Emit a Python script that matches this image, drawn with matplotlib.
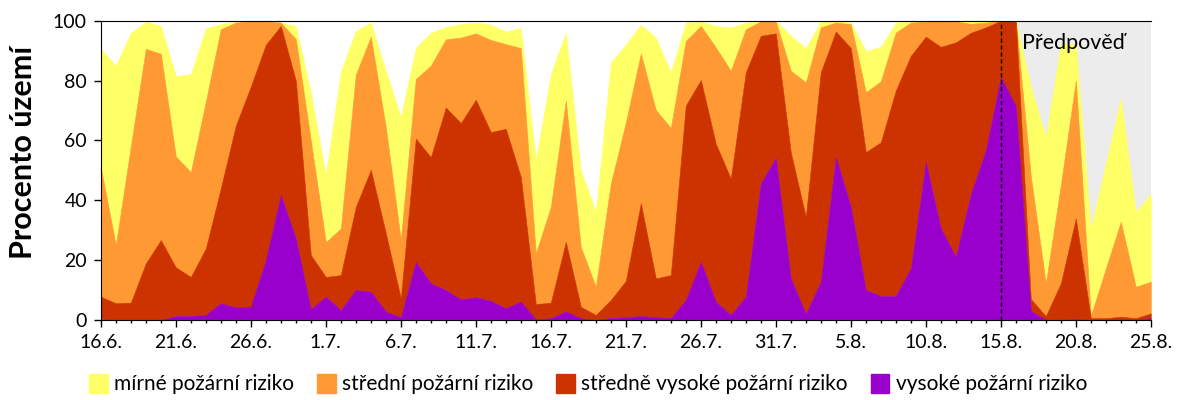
import numpy as np
import matplotlib.pyplot as plt
from matplotlib.patches import Patch

# Podíl území (%) podle stupně požárního rizika, denně 16.6. - 25.8.
# hodnoty jsou kumulativní ("aspoň dané riziko")
aspon_mirne = [
    90.6, 85, 96, 99.7, 98.3, 81.5, 82.2, 97.5, 98.9, 99.8,
    100, 100, 99.4, 98.3, 76, 48.3, 83, 96.7, 99.4, 83.3,
    67.8, 91, 96, 98, 98.9, 99.4, 98.7, 96.4, 97.6, 53.3,
    82.2, 96, 50, 36.1, 86.1, 92, 98.7, 94.4, 82.8, 99.4,
    99.8, 98.3, 97.8, 99.4, 99.8, 100, 95, 90.9, 99.8, 100,
    99.4, 89.8, 91.3, 99.4, 100, 100, 100, 100, 100, 100,
    100, 100, 78, 61.1, 92.2, 92.2, 30.6, 52.2, 74.2, 36.1,
    42.2,
]
aspon_stredni = [
    50.9, 25, 58, 90.6, 89, 54.7, 49.4, 73, 97.2, 99.4,
    100, 99.8, 99.4, 93.9, 60, 26, 30.6, 82, 94.7, 64.4,
    26.7, 80.6, 85, 93.8, 94.4, 95.8, 93.6, 92.2, 90.9, 22.2,
    37.8, 73.3, 24.4, 11.1, 45.6, 66, 89, 70.2, 64.2, 93.3,
    98.3, 91.1, 83.3, 97.2, 99.8, 99.8, 83.3, 79.4, 97.8, 99.4,
    98.9, 76.1, 79.8, 96.1, 99.4, 99.8, 99.8, 99.8, 99, 99.4,
    100, 100, 48, 12.2, 45, 80, 1.3, 17.2, 32.8, 11.1,
    12.8,
]
aspon_stredne_vysoke = [
    7.8, 5.6, 5.8, 18.9, 26.7, 17.6, 14.4, 23.9, 44, 65,
    78, 92, 98.3, 80, 21.7, 14.4, 15, 37.8, 50.2, 29,
    7.2, 60.6, 54.4, 71, 65.8, 73.6, 62.8, 63.9, 47.8, 5.3,
    5.8, 26.1, 4.4, 1.7, 6.7, 13, 39, 13.9, 15, 71.7,
    80.2, 58.9, 47.2, 82.8, 95, 95.8, 56, 34.4, 82.8, 96.4,
    90.9, 56.1, 59.4, 76.7, 88.3, 94.7, 91.3, 92.8, 96, 97.8,
    100, 100, 7, 1.3, 12.2, 33.9, 0.6, 0.6, 1.1, 0.6,
    2.2,
]
vysoke = [
    0.2, 0, 0, 0, 0, 1.3, 1.3, 1.7, 5.6, 4.2,
    4.5, 20, 41.7, 27.2, 3.6, 7.8, 3.3, 10, 9.4, 2.8,
    0.9, 19.4, 12.2, 10, 6.9, 7.6, 6.4, 3.9, 6.1, 0.2,
    0.6, 2.8, 0.6, 0, 0.6, 0.9, 1.3, 0.9, 0.6, 6.7,
    19.4, 6.1, 1.7, 7.8, 45.6, 54.2, 13.9, 2, 12.8, 54.4,
    37.8, 10, 8, 8, 17.2, 52.8, 30.6, 21.1, 42, 56.7,
    81.1, 71.5, 3, 0, 0, 0.2, 0, 0, 0.2, 0,
    0.6,
]

popisky_x = ["16.6.", "21.6.", "26.6.", "1.7.", "6.7.", "11.7.", "16.7.", "21.7.",
             "26.7.", "31.7.", "5.8.", "10.8.", "15.8.", "20.8.", "25.8."]
nazvy = ["mírné požární riziko", "střední požární riziko",
         "středně vysoké požární riziko", "vysoké požární riziko"]
barvy = ["#ffff66", "#ff9933", "#cc3300", "#9900cc"]
zacatek_predpovedi = 60  # 15.8.

plt.rcParams["font.family"] = ["Lato", "DejaVu Sans"]

fig = plt.figure(figsize=(12, 4), dpi=100)
ax = fig.add_axes([0.084, 0.2, 0.875, 0.748])

den = np.arange(len(vysoke))

# šedé pozadí pro předpověď
ax.axvspan(zacatek_predpovedi, den[-1], color="#ececec", lw=0, zorder=0)

vrstvy = [aspon_mirne, aspon_stredni, aspon_stredne_vysoke, vysoke, [0] * len(den)]
for i in range(4):
    ax.fill_between(den, vrstvy[i + 1], vrstvy[i], color=barvy[i],
                    ec=barvy[i], lw=0.4, zorder=1)

ax.axvline(zacatek_predpovedi, color="black", ls=(0, (3, 2)), lw=1, zorder=3)
ax.text(zacatek_predpovedi + 1.4, 92.5, "Předpověď", fontsize=15.5,
        va="center", ha="left", zorder=4)

ax.set_xlim(den[0], den[-1])
ax.set_ylim(0, 100)
ax.set_xticks(den[::5])
ax.set_xticklabels(popisky_x)
ax.set_xticks(den, minor=True)
ax.set_yticks(range(0, 101, 20))
ax.tick_params(axis="both", which="major", labelsize=14, direction="out",
               length=5, width=1, pad=5)
ax.tick_params(axis="x", which="minor", direction="out", length=2.5, width=1)
ax.spines["right"].set_visible(False)

ax.set_ylabel("Procento území", fontsize=22, fontweight="bold")
ax.yaxis.set_label_coords(-0.061, 0.56)

# legenda pod grafem
rucky = [Patch(color=b) for b in barvy]
fig.legend(rucky, nazvy, loc="center", bbox_to_anchor=(0.49, 0.04), ncol=4,
           frameon=False, fontsize=15, handlelength=0.9, handleheight=1.05,
           handletextpad=0.3, columnspacing=1.1)

fig.savefig("out.png", dpi=100)
